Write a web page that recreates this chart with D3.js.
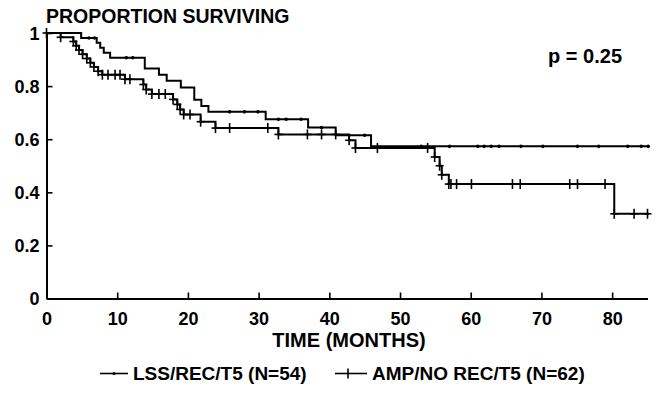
<!DOCTYPE html>
<html><head><meta charset="utf-8">
<script src="https://cdnjs.cloudflare.com/ajax/libs/d3/7.8.5/d3.min.js"></script>
<style>
html,body{margin:0;padding:0;background:#fff;}
svg{display:block;font-family:"Liberation Sans",Arial,Helvetica,sans-serif;font-weight:bold;}
</style></head><body>
<svg id="chart" width="664" height="402"></svg>
<script>
// ---- data ----
const xTicks = [0,10,20,30,40,50,60,70,80];
const yTicks = [0,0.2,0.4,0.6,0.8,1];
const yTickLabels = ["0","0.2","0.4","0.6","0.8","1"];
const seriesNames = ["LSS/REC/T5 (N=54)","AMP/NO REC/T5 (N=62)"];
const pText = "p = 0.25";
const titleText = "PROPORTION SURVIVING";
const xTitle = "TIME (MONTHS)";
const maxTime = 85.2;

// LSS/REC/T5: step times and survival after each step
const lssTimes = [4.9,7.1,7.6,8.1,9.0,13.9,15.9,17.0,19.0,20.9,21.9,22.9,31.0,37.0,40.9,45.9];
const lssSurv  = [0.981,0.963,0.944,0.926,0.907,0.866,0.843,0.820,0.795,0.749,0.725,0.703,0.675,0.644,0.615,0.573];
const lssMarks = [6.0,6.8,11.3,12.2,25.9,28.0,29.9,32.8,33.9,36.0,38.9,45.0,53.0,57.0,61.0,61.9,62.9,64.0,67.1,70.2,75.1,78.1,82.2,84.1,85.1];

// AMP/NO REC/T5
const ampTimes = [2.0,3.8,4.2,4.6,5.1,5.7,6.2,6.7,7.3,7.9,11.1,13.7,14.1,14.9,17.9,18.5,18.9,19.4,21.8,23.9,32.8,42.8,43.7,54.9,55.6,55.9,56.9,80.3];
const ampSurv  = [0.984,0.968,0.952,0.936,0.920,0.904,0.888,0.872,0.856,0.843,0.826,0.806,0.787,0.770,0.750,0.731,0.712,0.693,0.666,0.642,0.618,0.596,0.567,0.533,0.500,0.466,0.431,0.319];
const ampMarks = [0,2.0,3.8,4.2,4.6,5.1,5.7,6.2,6.7,7.3,7.9,8.7,9.7,10.4,11.1,11.8,13.7,14.1,14.9,15.9,16.8,17.9,18.5,18.9,19.4,20.3,21.8,23.9,25.9,31.3,32.8,36.9,38.9,40.9,42.8,43.7,46.8,53.9,54.9,55.6,55.9,56.9,57.2,58.0,60.1,65.9,67.0,74.0,75.1,79.0,80.3,83.1,85.0];

// ---- drawing ----
const svg = d3.select("#chart");
svg.append("rect").attr("width",664).attr("height",402).attr("fill","#fff");

const x = d3.scaleLinear().domain([0,85]).range([46.5,647.5]);
const y = d3.scaleLinear().domain([0,1]).range([298.5,33]);

function stepVal(times, surv, t){
  let v = 1;
  for(let i=0;i<times.length;i++){ if(times[i] <= t + 1e-9) v = surv[i]; }
  return v;
}
function stepPoints(times, surv){
  const pts=[[0,1]];
  times.forEach((t,i)=>pts.push([t,surv[i]]));
  pts.push([maxTime, surv[surv.length-1]]);
  return pts;
}
const line = d3.line().x(d=>x(d[0])).y(d=>y(d[1])).curve(d3.curveStepAfter);

// axes
const yAxis = d3.axisLeft(y).tickValues(yTicks).tickFormat((d,i)=>yTickLabels[i]).tickSizeInner(-6).tickSizeOuter(0).tickPadding(7);
const gy = svg.append("g").attr("transform",`translate(${x(0)},0)`).call(yAxis);
const xAxis = d3.axisBottom(x).tickValues(xTicks).tickFormat(d3.format("d")).tickSizeInner(-6).tickSizeOuter(0).tickPadding(13.5);
const gx = svg.append("g").attr("transform",`translate(0,${y(0)})`).call(xAxis);
[gx,gy].forEach(g=>{
  g.select(".domain").attr("stroke","#000").attr("stroke-width",2);
  g.selectAll(".tick line").attr("stroke","#000").attr("stroke-width",1.6);
  g.selectAll(".tick text").attr("fill","#000").attr("font-size",18).attr("font-family","Liberation Sans, Arial, sans-serif").attr("font-weight","bold");
});
gy.selectAll(".tick text").attr("dy","0.36em");

// curves
svg.append("path").attr("d",line(stepPoints(lssTimes,lssSurv))).attr("fill","none").attr("stroke","#000").attr("stroke-width",2);
svg.append("path").attr("d",line(stepPoints(ampTimes,ampSurv))).attr("fill","none").attr("stroke","#000").attr("stroke-width",2);

// marks: dots for LSS
svg.append("g").selectAll("circle").data(lssMarks).join("circle")
  .attr("cx",d=>x(d)).attr("cy",d=>y(stepVal(lssTimes,lssSurv,d))).attr("r",1.8).attr("fill","#000");
// plus for AMP
const plus = svg.append("g").attr("stroke","#000").attr("stroke-width",1.6);
ampMarks.forEach(t=>{
  const cx=x(t), cy=y(stepVal(ampTimes,ampSurv,t));
  plus.append("line").attr("x1",cx).attr("x2",cx).attr("y1",cy-5).attr("y2",cy+5);
  plus.append("line").attr("x1",cx-4).attr("x2",cx+4).attr("y1",cy).attr("y2",cy);
});

// texts
svg.append("text").attr("x",46).attr("y",23).attr("font-size",19.5).text(titleText);
svg.append("text").attr("x",622).attr("y",63).attr("text-anchor","end").attr("font-size",20).text(pText);
svg.append("text").attr("x",349).attr("y",346.5).attr("text-anchor","middle").attr("font-size",20).text(xTitle);

// legend
const lg = svg.append("g");
lg.append("line").attr("x1",100).attr("x2",128).attr("y1",373.5).attr("y2",373.5).attr("stroke","#000").attr("stroke-width",1.6);
lg.append("circle").attr("cx",114).attr("cy",373.5).attr("r",1.5);
lg.append("text").attr("x",133).attr("y",380).attr("font-size",19).text(seriesNames[0]);
lg.append("line").attr("x1",335).attr("x2",367).attr("y1",373.5).attr("y2",373.5).attr("stroke","#000").attr("stroke-width",1.6);
lg.append("line").attr("x1",348).attr("x2",348).attr("y1",368.5).attr("y2",378.5).attr("stroke","#000").attr("stroke-width",1.6);
lg.append("text").attr("x",372).attr("y",380).attr("font-size",19).text(seriesNames[1]);
</script>
</body></html>
